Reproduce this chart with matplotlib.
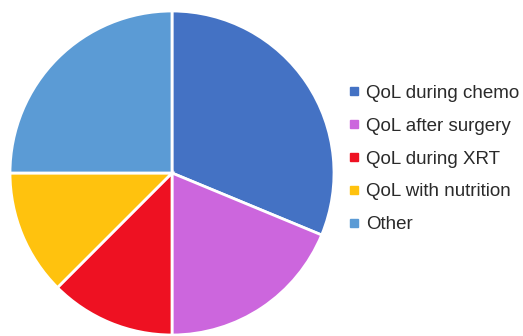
import matplotlib
matplotlib.use("Agg")
import matplotlib.pyplot as plt
from matplotlib.lines import Line2D

labels = ["QoL during chemo", "QoL after surgery", "QoL during XRT", "QoL with nutrition", "Other"]
values = [5, 3, 2, 2, 4]
colors = ["#4472C4", "#CC66DD", "#EE1122", "#FFC20E", "#5B9BD5"]

plt.rcParams['font.family'] = ['Liberation Sans', 'DejaVu Sans']
W, H = 523, 336
fig = plt.figure(figsize=(W/100, H/100), dpi=100)
cx, cy, r = 172, 173, 162
ax = fig.add_axes([(cx - r)/W, (H - cy - r)/H, 2*r/W, 2*r/H])
ax.pie(values, colors=colors, startangle=90, counterclock=False,
       wedgeprops=dict(edgecolor="white", linewidth=2))
ax.set_xlim(-1, 1); ax.set_ylim(-1, 1)
ax.set_aspect('equal')
ax.axis('off')

handles = [Line2D([], [], marker='s', linestyle='none', markersize=6,
                  markerfacecolor=c, markeredgecolor=c) for c in colors]
fig.legend(handles, labels, loc='center left', bbox_to_anchor=(341/W, 1 - 159/H),
           frameon=False, fontsize=13.5, handlelength=0.6, handletextpad=0.33,
           labelspacing=0.84, labelcolor='#2a2a2a', borderaxespad=0)
fig.savefig("out.png", dpi=100)
